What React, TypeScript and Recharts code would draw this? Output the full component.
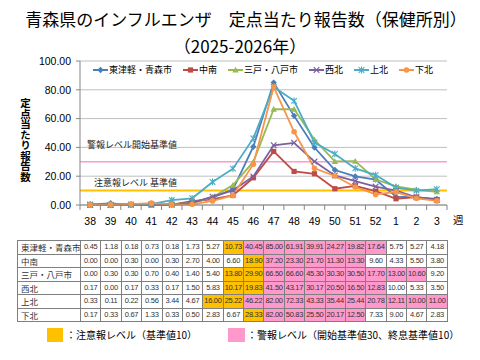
import { LineChart, Line, XAxis, YAxis, CartesianGrid, ReferenceLine, Legend } from 'recharts';

// weeks (2025 week 38 .. 2026 week 3)
const weeks = ['38', '39', '40', '41', '42', '43', '44', '45', '46', '47', '48', '49', '50', '51', '52', '1', '2', '3'];

const higashiTsugaru = [0.45, 1.18, 0.18, 0.73, 0.18, 1.73, 5.27, 10.73, 40.45, 85.0, 61.91, 39.91, 24.27, 19.82, 17.64, 5.75, 5.27, 4.18];
const chunan = [0.0, 0.0, 0.3, 0.0, 0.3, 2.7, 4.0, 6.6, 18.9, 37.2, 23.3, 21.7, 11.3, 13.3, 9.6, 4.33, 5.5, 3.8];
const sannohe = [0.0, 0.3, 0.3, 0.7, 0.4, 1.4, 5.4, 13.8, 29.9, 66.5, 66.6, 45.3, 30.3, 30.5, 17.7, 13.0, 10.6, 9.2];
const seihoku = [0.17, 0.0, 0.17, 0.33, 0.17, 1.5, 5.83, 10.17, 19.83, 41.5, 43.17, 30.17, 20.5, 16.5, 12.83, 10.0, 5.33, 3.5];
const kamikita = [0.33, 0.11, 0.22, 0.56, 3.44, 4.67, 16.0, 25.22, 46.22, 82.0, 72.33, 43.33, 35.44, 25.44, 20.78, 12.11, 10.0, 11.0];
const shimokita = [0.17, 0.33, 0.67, 1.33, 0.33, 0.5, 2.83, 6.67, 28.33, 82.0, 50.83, 25.5, 20.17, 12.5, 7.33, 9.0, 4.67, 2.83];

// alert level per week: n = none, c = 注意報, a = 警報
const higashiLevels = 'nnnnnnncaaaaaaannn'.split('');
const chunanLevels = 'nnnnnnnncaaaaannnn'.split('');
const sannoheLevels = 'nnnnnnnccaaaaaaaan'.split('');
const seihokuLevels = 'nnnnnnnccaaaaaannn'.split('');
const kamikitaLevels = 'nnnnnnccaaaaaaaaaa'.split('');
const shimokitaLevels = 'nnnnnnnncaaaaannnn'.split('');

const yTicks = [0, 10, 20, 30, 40, 50, 60, 70, 80, 90, 100];
const ALARM_START = 30;
const CAUTION = 10;

const series = [
  { key: 'higashi', name: '東津軽・青森市', color: '#4A7EBB', shape: 'diamond', values: higashiTsugaru, levels: higashiLevels },
  { key: 'chunan', name: '中南', color: '#BE4B48', shape: 'square', values: chunan, levels: chunanLevels },
  { key: 'sannohe', name: '三戸・八戸市', color: '#98B954', shape: 'triangle', values: sannohe, levels: sannoheLevels },
  { key: 'seihoku', name: '西北', color: '#7D60A0', shape: 'x', values: seihoku, levels: seihokuLevels },
  { key: 'kamikita', name: '上北', color: '#4BACC6', shape: 'star', values: kamikita, levels: kamikitaLevels },
  { key: 'shimokita', name: '下北', color: '#F79646', shape: 'circle', values: shimokita, levels: shimokitaLevels },
];

const chartData = weeks.map((week, i) => {
  const row: Record<string, string | number> = { week };
  series.forEach((s) => {
    row[s.key] = s.values[i];
  });
  return row;
});

const JP = '"Noto Sans CJK JP", "Noto Sans", sans-serif';
const NUM = '"Liberation Sans", Arial, sans-serif';
const BAND = (447 - 80) / weeks.length;
const levelFill: Record<string, string> = { n: '#FFFFFF', c: '#FFC000', a: '#FF99CC' };

function Marker({ shape, cx, cy, color }: { shape: string; cx: number; cy: number; color: string }) {
  if (cx == null || cy == null) return null;
  switch (shape) {
    case 'diamond':
      return <path d={`M${cx},${cy - 3.2}L${cx + 3.2},${cy}L${cx},${cy + 3.2}L${cx - 3.2},${cy}Z`} fill={color} />;
    case 'square':
      return <rect x={cx - 2.6} y={cy - 2.6} width={5.2} height={5.2} fill={color} />;
    case 'triangle':
      return <path d={`M${cx},${cy - 3.2}L${cx + 3.2},${cy + 2.6}L${cx - 3.2},${cy + 2.6}Z`} fill={color} />;
    case 'x':
      return (
        <path d={`M${cx - 2.8},${cy - 2.8}L${cx + 2.8},${cy + 2.8}M${cx + 2.8},${cy - 2.8}L${cx - 2.8},${cy + 2.8}`} stroke={color} strokeWidth={1.2} />
      );
    case 'star':
      return (
        <path
          d={`M${cx - 2.8},${cy - 2.8}L${cx + 2.8},${cy + 2.8}M${cx + 2.8},${cy - 2.8}L${cx - 2.8},${cy + 2.8}M${cx},${cy - 3.4}L${cx},${cy + 3.4}`}
          stroke={color}
          strokeWidth={1.1}
        />
      );
    default:
      return <circle cx={cx} cy={cy} r={2.8} fill={color} />;
  }
}

function XTick({ x, y, payload, index }: any) {
  const last = index === weeks.length - 1;
  return (
    <g>
      <line x1={x - BAND / 2} x2={x - BAND / 2} y1={y - 5} y2={y} stroke="#868686" />
      {last && <line x1={x + BAND / 2} x2={x + BAND / 2} y1={y - 5} y2={y} stroke="#868686" />}
      <text x={x} y={y + 15} textAnchor="middle" fontSize={10.5} fontFamily={NUM} fill="#000">
        {payload.value}
      </text>
    </g>
  );
}

function ChartLegend() {
  return (
    <div style={{ display: 'flex', alignItems: 'center', fontFamily: JP, fontSize: 9, color: '#000', whiteSpace: 'nowrap' }}>
      {series.map((s) => (
        <div key={s.key} style={{ display: 'flex', alignItems: 'center', marginRight: 11 }}>
          <svg width={15} height={10}>
            <line x1={0} x2={15} y1={5} y2={5} stroke={s.color} strokeWidth={2} />
            <Marker shape={s.shape} cx={7.5} cy={5} color={s.color} />
          </svg>
          <span style={{ marginLeft: 1 }}>{s.name}</span>
        </div>
      ))}
    </div>
  );
}

function refLabel(text: string, dx: number, dy: number) {
  return (props: any) => {
    const vb = props.viewBox || {};
    return (
      <text x={vb.x + dx} y={vb.y + dy} fontSize={9} fontFamily={JP} fill="#222">
        {text}
      </text>
    );
  };
}

export default function App() {
  return (
    <div style={{ position: 'absolute', left: 0, top: 0, width: 480, height: 360, background: '#fff', overflow: 'hidden' }}>
      <div
        style={{
          position: 'absolute',
          left: 0,
          width: 480,
          top: 7,
          textAlign: 'center',
          fontFamily: JP,
          fontSize: 17,
          lineHeight: '24px',
          whiteSpace: 'nowrap',
          color: '#000',
          paddingLeft: 12,
          boxSizing: 'border-box',
        }}
      >
        青森県のインフルエンザ　定点当たり報告数（保健所別）
      </div>
      <div style={{ position: 'absolute', left: 0, width: 480, top: 34, textAlign: 'center', fontFamily: JP, fontSize: 17, lineHeight: '24px', color: '#000' }}>
        （2025-2026年）
      </div>
      <div
        style={{
          position: 'absolute',
          left: 19,
          top: 98,
          writingMode: 'vertical-rl',
          fontFamily: JP,
          fontSize: 10.5,
          fontWeight: 'bold',
          lineHeight: '12px',
          color: '#000',
        }}
      >
        定点当たり報告数
      </div>

      <div style={{ position: 'absolute', left: 0, top: 0 }}>
        <LineChart width={480} height={240} data={chartData} margin={{ top: 61, right: 33, bottom: 15, left: 0 }}>
          <CartesianGrid vertical={false} stroke="#BFBFBF" />
          <XAxis
            dataKey="week"
            interval={0}
            height={20}
            padding={{ left: BAND / 2, right: BAND / 2 }}
            tickSize={5}
            tickMargin={0}
            tickLine={false}
            stroke="#868686"
            tick={<XTick />}
          />
          <YAxis
            width={80}
            domain={[0, 100]}
            ticks={yTicks}
            tickFormatter={(v: number) => v.toFixed(2)}
            tickSize={4}
            tickMargin={5}
            stroke="#868686"
            tick={{ fontSize: 10.5, fontFamily: NUM, fill: '#000' }}
          />
          <ReferenceLine y={ALARM_START} stroke="#FF99CC" strokeWidth={1.5} label={{ content: refLabel('警報レベル開始基準値', 7, -14) }} />
          <ReferenceLine y={CAUTION} stroke="#FFC000" strokeWidth={2} label={{ content: refLabel('注意報レベル 基準値', 14, -5) }} />
          <Legend
            verticalAlign="middle"
            align="center"
            content={() => <ChartLegend />}
            wrapperStyle={{ top: 63, left: 93, width: 380 }}
          />
          {series.map((s) => (
            <Line
              key={s.key}
              dataKey={s.key}
              name={s.name}
              stroke={s.color}
              strokeWidth={1.8}
              isAnimationActive={false}
              dot={(p: any) => <Marker key={`${s.key}-${p.index}`} shape={s.shape} cx={p.cx} cy={p.cy} color={s.color} />}
              activeDot={false}
            />
          ))}
        </LineChart>
      </div>

      <div style={{ position: 'absolute', left: 453, top: 212, fontFamily: JP, fontSize: 10.5, color: '#000' }}>週</div>

      <table
        style={{
          position: 'absolute',
          left: 17,
          top: 240,
          width: 431,
          height: 82,
          borderCollapse: 'collapse',
          tableLayout: 'fixed',
          color: '#333',
        }}
      >
        <colgroup>
          <col style={{ width: 63 }} />
          {weeks.map((w) => (
            <col key={w} />
          ))}
        </colgroup>
        <tbody>
          {series.map((s) => (
            <tr key={s.key}>
              <td style={{ border: '1px solid #7F7F7F', fontFamily: JP, fontSize: 8.5, padding: '0 0 0 3px', whiteSpace: 'nowrap', lineHeight: '12px' }}>
                {s.name}
              </td>
              {s.values.map((v, i) => (
                <td
                  key={i}
                  style={{
                    border: '1px solid #7F7F7F',
                    background: levelFill[s.levels[i]],
                    fontFamily: NUM,
                    fontSize: 7.5,
                    textAlign: 'center',
                    padding: 0,
                    lineHeight: '12px',
                    whiteSpace: 'nowrap',
                    letterSpacing: -0.3,
                  }}
                >
                  {v.toFixed(2)}
                </td>
              ))}
            </tr>
          ))}
        </tbody>
      </table>

      <div style={{ position: 'absolute', left: 47, top: 328, width: 16, height: 14, background: '#FFC000' }} />
      <div style={{ position: 'absolute', left: 66, top: 327, fontFamily: JP, fontSize: 10, lineHeight: '16px', color: '#000', whiteSpace: 'nowrap' }}>
        ：注意報レベル（基準値10）
      </div>
      <div style={{ position: 'absolute', left: 228, top: 328, width: 17, height: 14, background: '#FF99CC' }} />
      <div style={{ position: 'absolute', left: 247, top: 327, fontFamily: JP, fontSize: 10, lineHeight: '16px', color: '#000', whiteSpace: 'nowrap' }}>
        ：警報レベル（開始基準値30、終息基準値10）
      </div>
    </div>
  );
}
